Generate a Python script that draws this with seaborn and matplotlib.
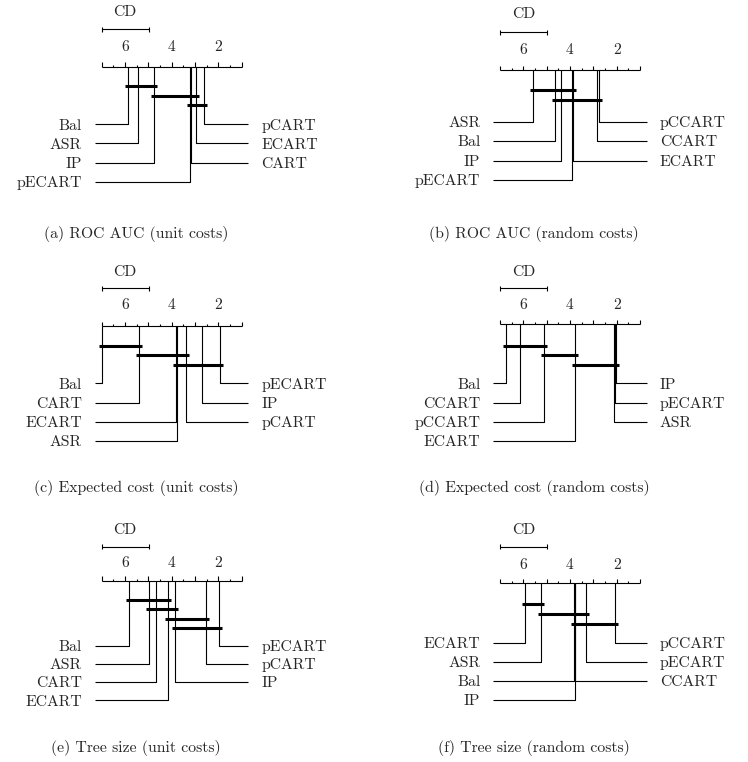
import matplotlib
matplotlib.use("Agg")
import matplotlib.pyplot as plt
import seaborn as sns

# average ranks (7 = worst, 1 = best)
cd = 2.01

a_left = ["Bal", "ASR", "IP", "pECART"]
a_left_rank = [5.86, 5.43, 4.76, 3.21]
a_right = ["pCART", "ECART", "CART"]
a_right_rank = [2.60, 2.96, 3.17]
a_cliques = [("Bal", "IP"), ("IP", "ECART"), ("pECART", "pCART")]

b_left = ["ASR", "Bal", "IP", "pECART"]
b_left_rank = [5.59, 4.64, 4.38, 3.90]
b_right = ["pCCART", "CCART", "ECART"]
b_right_rank = [2.77, 2.86, 3.86]
b_cliques = [("ASR", "ECART"), ("Bal", "pCCART")]

c_left = ["Bal", "CART", "ECART", "ASR"]
c_left_rank = [7.00, 5.42, 3.80, 3.77]
c_right = ["pECART", "IP", "pCART"]
c_right_rank = [1.91, 2.69, 3.40]
c_cliques = [("Bal", "CART"), ("CART", "pCART"), ("ECART", "pECART")]

d_left = ["Bal", "CCART", "pCCART", "ECART"]
d_left_rank = [6.73, 6.13, 5.11, 3.80]
d_right = ["IP", "pECART", "ASR"]
d_right_rank = [2.02, 2.07, 2.12]
d_cliques = [("Bal", "pCCART"), ("pCCART", "ECART"), ("ECART", "IP")]

e_left = ["Bal", "ASR", "CART", "ECART"]
e_left_rank = [5.84, 4.96, 4.67, 4.17]
e_right = ["pECART", "pCART", "IP"]
e_right_rank = [1.96, 2.54, 3.86]
e_cliques = [("Bal", "ECART"), ("ASR", "IP"), ("ECART", "pCART"), ("IP", "pECART")]

f_left = ["ECART", "ASR", "Bal", "IP"]
f_left_rank = [5.93, 5.26, 3.81, 3.80]
f_right = ["pCCART", "pECART", "CCART"]
f_right_rank = [2.07, 3.33, 3.79]
f_cliques = [("ECART", "ASR"), ("ASR", "pECART"), ("Bal", "pCCART")]

captions = ["(a) ROC AUC (unit costs)", "(b) ROC AUC (random costs)",
            "(c) Expected cost (unit costs)", "(d) Expected cost (random costs)",
            "(e) Tree size (unit costs)", "(f) Tree size (random costs)"]

sns.set_theme(style="white")
plt.rcParams["font.family"] = ["cmr10", "DejaVu Serif"]
plt.rcParams["axes.unicode_minus"] = False

W, H = 748, 762
fig = plt.figure(figsize=(W / 100, H / 100), dpi=100)
PX = 140 / 6  # pixels per rank unit
FS = 11.3


def cd_diagram(x0, cap_x, ys, left, left_rank, right, right_rank, cliques, caption):
    cd_txt_y, cd_y, tick_y, axis_y, clq_y, clq_step, row_y, row_step, cap_y = ys
    ax = fig.add_axes([x0 / W, 0, 140 / W, 1])
    ax.set_xlim(7, 1)
    ax.set_ylim(H, 0)
    ax.axis("off")
    kw = dict(color="black", lw=0.8, clip_on=False, solid_capstyle="butt")

    # CD bar
    ax.plot([7, 7 - cd], [cd_y, cd_y], **kw)
    for x in (7, 7 - cd):
        ax.plot([x, x], [cd_y - 2.5, cd_y + 2.5], **kw)
    ax.text(7 - cd / 2, cd_txt_y, "CD", ha="center", va="center", fontsize=FS)

    # rank axis
    ax.plot([7, 1], [axis_y, axis_y], **kw)
    for i in range(13):
        r = 7 - i * 0.5
        h = 4.5 if i % 2 == 0 else 2.2
        ax.plot([r, r], [axis_y, axis_y - h], **kw)
    for r in (6, 4, 2):
        ax.text(r, tick_y, str(r), ha="center", va="center", fontsize=FS)

    ranks = dict(zip(left + right, left_rank + right_rank))
    end = 6.7 / PX
    gap = 13 / PX
    for i, (name, r) in enumerate(zip(left, left_rank)):
        y = row_y + i * row_step
        ax.plot([r, r, 7 + end], [axis_y, y, y], **kw)
        ax.text(7 + end + gap, y + 5.3, name, ha="right", va="baseline", fontsize=FS)
    for i, (name, r) in enumerate(zip(right, right_rank)):
        y = row_y + i * row_step
        ax.plot([r, r, 1 - end], [axis_y, y, y], **kw)
        ax.text(1 - end - gap, y + 5.3, name, ha="left", va="baseline", fontsize=FS)

    ext = 3 / PX
    for i, (a, b) in enumerate(cliques):
        y = clq_y + i * clq_step
        ax.plot([ranks[a] + ext, ranks[b] - ext], [y, y], color="black", lw=2.2,
                clip_on=False, solid_capstyle="butt")

    ax.text(7 - (cap_x - x0) / PX, cap_y, caption, ha="center", va="center", fontsize=FS)


L, R = 101.7, 500.0
cd_diagram(L, 136, (11.7, 29.3, 46.7, 66.7, 86, 9.65, 124.3, 19.1, 234),
           a_left, a_left_rank, a_right, a_right_rank, a_cliques, captions[0])
cd_diagram(R, 534, (14.0, 32.3, 50.0, 70.0, 90, 10.0, 121.5, 19.5, 234),
           b_left, b_left_rank, b_right, b_right_rank, b_cliques, captions[1])
cd_diagram(L, 136, (271.7, 288.3, 305, 326, 345.7, 9.5, 383.3, 19.2, 488),
           c_left, c_left_rank, c_right, c_right_rank, c_cliques, captions[2])
cd_diagram(R, 534, (271.7, 288.3, 305, 324, 345.7, 9.5, 383.3, 19.2, 488),
           d_left, d_left_rank, d_right, d_right_rank, d_cliques, captions[3])
cd_diagram(L, 136, (530, 546.7, 562.7, 580.7, 600.3, 9.1, 645.7, 18.2, 748),
           e_left, e_left_rank, e_right, e_right_rank, e_cliques, captions[4])
cd_diagram(R, 534, (530, 546.7, 565, 583.3, 604.3, 9.7, 642.7, 19.1, 748),
           f_left, f_left_rank, f_right, f_right_rank, f_cliques, captions[5])

fig.savefig("out.png", dpi=100, facecolor="white")
